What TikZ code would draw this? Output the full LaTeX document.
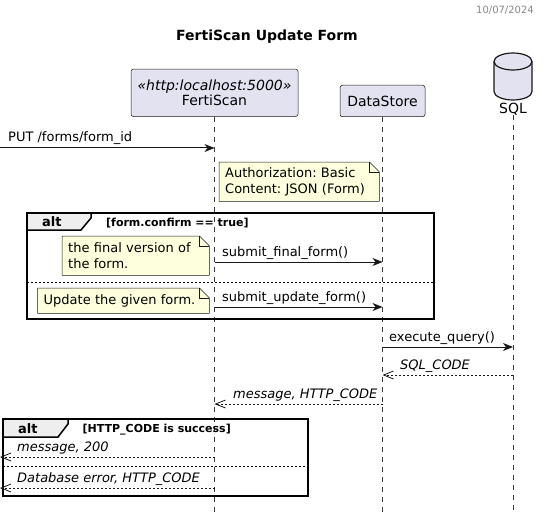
\documentclass[tikz,border=0pt]{standalone}
\usepackage{fontspec}
\setmainfont{DejaVu Sans}
\usepackage{xcolor}
\usetikzlibrary{arrows.meta,backgrounds}
\frenchspacing
\definecolor{partfill}{HTML}{E2E2F0}
\definecolor{noteyellow}{HTML}{FEFFDD}
\definecolor{linec}{HTML}{181818}
\definecolor{tabgray}{HTML}{EEEEEE}
\definecolor{dategray}{HTML}{888888}
\tikzset{
	participant/.style={draw=linec, fill=partfill, rounded corners=2.5pt, line width=0.5pt,
			align=center, inner sep=0pt, font=\fontsize{14}{15.5}\selectfont},
	dbshape/.style={draw=linec, fill=partfill, line width=1.2pt},
	lifeline/.style={draw=linec!85, line width=0.5pt, dash pattern=on 5pt off 5pt},
	msg/.style={draw=linec, line width=1pt, -{Stealth[length=10pt,width=8pt,inset=3pt]}},
	ret/.style={draw=linec, line width=0.8pt, dash pattern=on 2pt off 2pt,
			-{Straight Barb[length=10pt,width=8pt]}},
	lbl/.style={anchor=base west, inner sep=0pt, font=\fontsize{13}{15}\selectfont},
	retlbl/.style={lbl, font=\fontsize{13}{15}\selectfont\itshape},
	notebox/.style={anchor=north west, inner xsep=6pt, inner ysep=0pt, align=left,
			font=\fontsize{13}{16.5}\selectfont},
	notefill/.style={draw=linec, fill=noteyellow, line width=0.5pt},
	altframe/.style={draw=black, line width=1.5pt},
	alttab/.style={draw=black, fill=tabgray, line width=1.5pt},
	altlbl/.style={anchor=base west, inner sep=0pt, font=\fontsize{13}{15}\selectfont\bfseries},
	altcond/.style={anchor=base west, inner sep=0pt, font=\fontsize{11}{13}\selectfont\bfseries},
	altsep/.style={draw=black, line width=0.8pt, dash pattern=on 2pt off 2pt}
}
\begin{document}
\begin{tikzpicture}[x=1pt,y=1pt]
	\useasboundingbox (0,0) rectangle (547,-519);

	% Header
	\node[anchor=base east, inner sep=0pt, font=\fontsize{10}{12}\selectfont, text=dategray] (date) at (534,-14) {10/07/2024};
	\node[font=\fontsize{14}{16}\selectfont\bfseries] (title) at (267,-37) {FertiScan Update Form};

	% Participants
	\node[participant, minimum width=167pt, minimum height=47.5pt] (fs) at (214.5,-92.8) {\textit{«http:localhost:5000»}\\FertiScan};
	\node[participant, minimum width=85pt, minimum height=31.5pt] (ds) at (382.5,-101) {DataStore};
	\coordinate (sql) at (513,-61.5);
	\draw[dbshape] ([xshift=-19pt]sql) -- ++(0,-30) arc[start angle=180, end angle=360, x radius=19, y radius=8.5]
		-- ++(0,30) arc[start angle=0, end angle=180, x radius=19, y radius=8.5] -- cycle;
	\draw[dbshape, fill=none] ([xshift=-19pt]sql) arc[start angle=180, end angle=360, x radius=19, y radius=8.5];
	\node[inner sep=0pt, font=\fontsize{14}{16}\selectfont] (sqllbl) at (513,-109) {SQL};

	% Lifelines
	\coordinate (bot) at (0,-512);
	\foreach \p in {fs,ds} {
			\draw[lifeline] (\p.south) -- (\p |- bot);
		}
	\draw[lifeline] (sqllbl.south) -- (sqllbl |- bot);

	% Request
	\coordinate (r1) at (0,-148);
	\draw[msg] (r1) -- (r1 -| fs);
	\node[lbl] (m1) at (8,-142) {PUT /forms/form\_id};
	\node[notebox, text width=148pt, minimum height=39pt] (n1) at (219,-162) {Authorization: Basic\\Content: JSON (Form)};

	% First alt
	\draw[altframe] (27,-213) rectangle (434,-319);
	\draw[alttab] (27,-213) -- (91,-213) -- (91,-218) -- (81,-230) -- (27,-230) -- cycle;
	\node[altlbl] (a1) at (42,-226.5) {alt};
	\node[altcond] (a1c) at (106,-226) {[form.confirm == true]};
	\node[notebox, text width=135pt, minimum height=39pt] (n2) at (62,-236) {the final version of\\the form.};
	\coordinate (r2) at (0,-262);
	\draw[msg] (r2 -| fs) -- (r2 -| ds);
	\node[lbl] (m2) at (222,-256) {submit\_final\_form()};
	\draw[altsep] (27,-282) -- (434,-282);
	\node[notebox, text width=159.5pt, minimum height=25pt] (n3) at (37.5,-288) {Update the given form.};
	\coordinate (r3) at (0,-307);
	\draw[msg] (r3 -| fs) -- (r3 -| ds);
	\node[lbl] (m3) at (222,-301) {submit\_update\_form()};

	% Query
	\coordinate (r4) at (0,-347);
	\draw[msg] (r4 -| ds) -- (r4 -| sqllbl);
	\node[lbl] (m4) at (389,-341) {execute\_query()};
	\coordinate (r5) at (0,-375);
	\draw[ret] (r5 -| sqllbl) -- (r5 -| ds);
	\node[retlbl] (m5) at (400,-369) {SQL\_CODE};
	\coordinate (r6) at (0,-404);
	\draw[ret] (r6 -| ds) -- (r6 -| fs);
	\node[retlbl] (m6) at (233,-398) {message, HTTP\_CODE};

	% Second alt
	\draw[altframe] (3,-419) rectangle (308,-496);
	\draw[alttab] (3,-419) -- (68,-419) -- (68,-424) -- (58,-437) -- (3,-437) -- cycle;
	\node[altlbl] (a2) at (18,-433) {alt};
	\node[altcond] (a2c) at (82.5,-432.5) {[HTTP\_CODE is success]};
	\coordinate (r7) at (0,-457);
	\draw[ret] (r7 -| fs) -- (r7);
	\node[retlbl] (m7) at (17,-451) {message, 200};
	\draw[altsep] (3,-466) -- (308,-466);
	\coordinate (r8) at (0,-488);
	\draw[ret] (r8 -| fs) -- (r8);
	\node[retlbl] (m8) at (17,-482) {Database error, HTTP\_CODE};

	% Note outlines
	\begin{scope}[on background layer]
		\foreach \n in {n1,n2,n3} {
				\draw[notefill] (\n.north west) -- ([xshift=-10pt]\n.north east) -- ([yshift=-10pt]\n.north east)
					-- (\n.south east) -- (\n.south west) -- cycle;
				\draw[notefill, fill=none] ([xshift=-10pt]\n.north east) -- ([xshift=-10pt,yshift=-10pt]\n.north east)
					-- ([yshift=-10pt]\n.north east);
			}
	\end{scope}
\end{tikzpicture}
\end{document}
